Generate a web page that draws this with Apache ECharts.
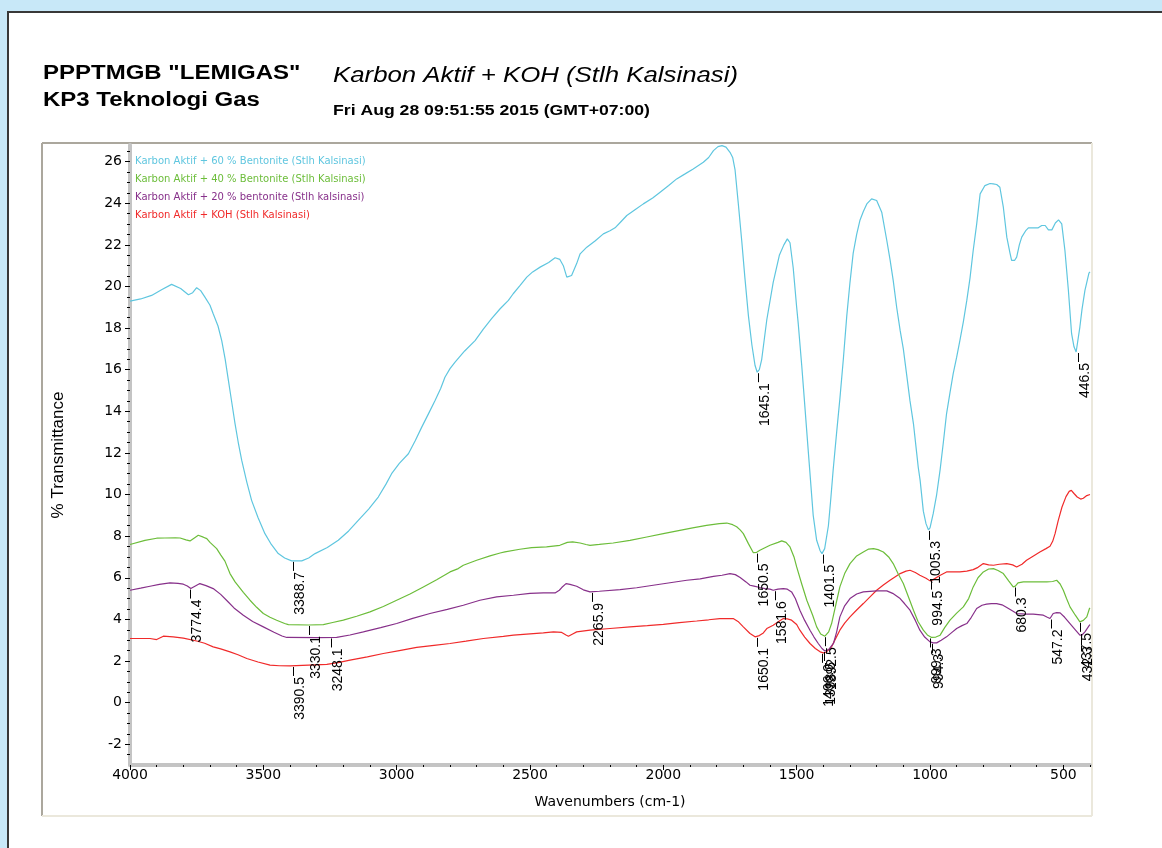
<!DOCTYPE html>
<html><head><meta charset="utf-8">
<script src="https://cdn.jsdelivr.net/npm/echarts@6/dist/echarts.min.js"></script>
<style>html,body{margin:0;padding:0;background:#c8e8f8;}#c{width:1162px;height:848px;}</style>
</head><body><div id="c"></div>
<script>
const seriesNames = [
  'Karbon Aktif + 60 % Bentonite (Stlh Kalsinasi)',
  'Karbon Aktif + 40 % Bentonite (Stlh Kalsinasi)',
  'Karbon Aktif + 20 % bentonite (Stlh kalsinasi)',
  'Karbon Aktif + KOH (Stlh Kalsinasi)'
];
const seriesColors = ['#5fc6df', '#6cbd3a', '#87308a', '#f02a2a'];

const cyanData = [[4000,19.3],[3994,19.25],[3960,19.4],[3919,19.57],[3880,19.85],[3844,20.1],[3810,19.9],[3781,19.6],[3765,19.7],[3750,19.94],[3735,19.8],[3719,19.49],[3700,19.1],[3688,18.69],[3670,18.1],[3656,17.4],[3643,16.5],[3631,15.49],[3618,14.4],[3606,13.4],[3594,12.5],[3581,11.64],[3562,10.6],[3544,9.72],[3520,8.9],[3494,8.12],[3470,7.6],[3444,7.16],[3420,6.95],[3394,6.81],[3356,6.81],[3330,6.95],[3306,7.16],[3260,7.45],[3219,7.8],[3180,8.25],[3144,8.76],[3105,9.3],[3069,9.88],[3040,10.5],[3019,11.0],[2990,11.5],[2956,11.96],[2930,12.6],[2906,13.24],[2880,13.9],[2856,14.52],[2835,15.1],[2819,15.64],[2800,16.05],[2781,16.36],[2745,16.9],[2706,17.4],[2675,17.95],[2644,18.45],[2612,18.93],[2581,19.33],[2563,19.65],[2537,20.05],[2512,20.45],[2490,20.7],[2462,20.93],[2430,21.15],[2406,21.38],[2388,21.3],[2375,21.0],[2362,20.45],[2344,20.53],[2325,21.1],[2312,21.57],[2287,21.89],[2255,22.2],[2225,22.53],[2200,22.68],[2181,22.82],[2160,23.1],[2137,23.41],[2105,23.7],[2075,23.97],[2040,24.25],[2012,24.53],[1980,24.85],[1950,25.17],[1920,25.4],[1888,25.65],[1850,25.97],[1830,26.2],[1812,26.53],[1795,26.72],[1780,26.77],[1765,26.7],[1750,26.45],[1740,26.2],[1731,25.6],[1719,24.0],[1706,22.2],[1694,20.4],[1681,18.6],[1668,17.2],[1656,16.2],[1648,15.88],[1640,16.0],[1631,16.5],[1612,18.4],[1588,20.2],[1565,21.5],[1548,22.0],[1535,22.29],[1525,22.1],[1513,20.9],[1500,19.0],[1494,18.2],[1481,16.2],[1475,15.2],[1456,12.0],[1438,9.0],[1425,7.8],[1412,7.3],[1405,7.16],[1395,7.4],[1381,8.5],[1372,9.8],[1363,11.2],[1350,13.0],[1338,14.6],[1325,16.5],[1312,18.6],[1300,20.2],[1288,21.6],[1275,22.5],[1263,23.17],[1250,23.6],[1237,23.97],[1219,24.21],[1200,24.13],[1181,23.57],[1162,22.21],[1150,21.3],[1138,20.29],[1125,19.0],[1112,17.89],[1100,17.0],[1087,15.7],[1075,14.5],[1062,13.4],[1050,12.0],[1044,11.3],[1037,10.68],[1025,9.2],[1015,8.6],[1006,8.3],[1000,8.4],[988,9.08],[975,10.0],[962,11.2],[950,12.5],[938,13.88],[925,14.9],[913,15.81],[900,16.6],[888,17.4],[875,18.3],[862,19.33],[850,20.4],[838,21.73],[825,23.0],[812,24.45],[794,24.85],[775,24.95],[763,24.93],[750,24.9],[738,24.77],[725,23.81],[712,22.37],[700,21.6],[694,21.25],[683,21.25],[675,21.41],[665,22.0],[656,22.37],[640,22.7],[631,22.82],[594,22.82],[581,22.93],[568,22.93],[556,22.72],[543,22.72],[530,23.05],[518,23.2],[506,23.01],[494,21.73],[481,19.81],[469,17.73],[460,17.1],[452,16.85],[446,16.9],[438,18.05],[430,18.9],[419,19.81],[404,20.64],[400,20.7]];

const greenData = [[4000,7.6],[3994,7.64],[3944,7.8],[3900,7.9],[3869,7.91],[3830,7.92],[3812,7.91],[3790,7.82],[3775,7.77],[3760,7.9],[3744,8.04],[3725,7.95],[3712,7.88],[3700,7.7],[3675,7.4],[3660,7.1],[3644,6.8],[3625,6.2],[3606,5.8],[3600,5.72],[3575,5.3],[3550,4.92],[3525,4.58],[3500,4.28],[3475,4.1],[3450,3.96],[3420,3.8],[3406,3.75],[3330,3.73],[3275,3.75],[3240,3.85],[3200,3.96],[3150,4.15],[3100,4.36],[3050,4.62],[3000,4.92],[2950,5.22],[2900,5.56],[2850,5.9],[2800,6.28],[2769,6.44],[2750,6.6],[2700,6.84],[2650,7.05],[2612,7.19],[2594,7.24],[2538,7.37],[2494,7.45],[2438,7.48],[2388,7.56],[2360,7.7],[2340,7.72],[2312,7.67],[2290,7.6],[2275,7.56],[2240,7.6],[2188,7.67],[2125,7.8],[2062,7.96],[2000,8.12],[1938,8.28],[1890,8.4],[1838,8.52],[1790,8.6],[1762,8.63],[1740,8.55],[1725,8.45],[1712,8.3],[1700,8.12],[1681,7.64],[1663,7.21],[1650,7.22],[1638,7.32],[1600,7.56],[1570,7.7],[1556,7.77],[1540,7.7],[1525,7.48],[1510,7.0],[1500,6.52],[1481,5.7],[1462,4.92],[1440,4.2],[1425,3.64],[1410,3.3],[1394,3.19],[1380,3.4],[1369,3.8],[1355,4.6],[1338,5.56],[1320,6.2],[1300,6.68],[1275,7.05],[1250,7.24],[1230,7.38],[1212,7.4],[1195,7.35],[1175,7.24],[1155,7.0],[1138,6.68],[1120,6.2],[1100,5.72],[1080,5.05],[1062,4.44],[1045,3.9],[1025,3.48],[1010,3.25],[994,3.13],[978,3.15],[962,3.24],[945,3.6],[925,3.96],[900,4.3],[875,4.6],[855,5.0],[838,5.56],[820,6.0],[800,6.28],[780,6.42],[762,6.44],[745,6.35],[725,6.2],[705,5.85],[688,5.56],[680,5.6],[670,5.75],[650,5.8],[613,5.8],[562,5.8],[540,5.82],[525,5.88],[512,5.7],[500,5.4],[488,5.0],[475,4.6],[455,4.2],[438,3.88],[425,3.95],[412,4.12],[402,4.52],[400,4.55]];

const purpleData = [[4000,5.4],[3960,5.5],[3925,5.59],[3890,5.68],[3850,5.75],[3820,5.73],[3800,5.69],[3785,5.6],[3772,5.48],[3755,5.6],[3738,5.72],[3715,5.62],[3688,5.48],[3660,5.2],[3638,4.92],[3610,4.55],[3575,4.2],[3540,3.9],[3500,3.64],[3460,3.38],[3430,3.2],[3412,3.13],[3300,3.12],[3225,3.13],[3175,3.25],[3125,3.4],[3060,3.6],[3000,3.8],[2940,4.05],[2875,4.28],[2810,4.48],[2750,4.68],[2688,4.92],[2625,5.08],[2562,5.16],[2500,5.25],[2450,5.27],[2406,5.27],[2390,5.4],[2381,5.53],[2365,5.72],[2350,5.68],[2325,5.59],[2300,5.42],[2275,5.32],[2240,5.35],[2162,5.43],[2100,5.52],[2038,5.64],[1975,5.76],[1912,5.88],[1862,5.95],[1812,6.07],[1780,6.12],[1750,6.2],[1730,6.15],[1712,6.01],[1690,5.8],[1675,5.64],[1660,5.6],[1638,5.53],[1619,5.48],[1600,5.45],[1588,5.4],[1570,5.45],[1550,5.48],[1535,5.45],[1519,5.32],[1505,5.0],[1488,4.44],[1470,3.95],[1450,3.48],[1435,3.15],[1419,2.84],[1405,2.6],[1394,2.48],[1380,2.55],[1362,2.84],[1350,3.4],[1338,4.12],[1320,4.65],[1300,5.0],[1275,5.22],[1250,5.32],[1200,5.37],[1162,5.37],[1140,5.25],[1112,5.0],[1095,4.75],[1075,4.44],[1055,3.95],[1038,3.48],[1020,3.15],[1000,2.92],[988,2.87],[975,2.87],[958,3.0],[938,3.16],[920,3.35],[900,3.56],[880,3.7],[862,3.8],[845,4.1],[825,4.52],[805,4.68],[788,4.73],[770,4.76],[750,4.76],[730,4.7],[712,4.57],[690,4.4],[675,4.28],[640,4.25],[613,4.25],[575,4.2],[560,4.1],[550,4.04],[538,4.28],[525,4.32],[512,4.31],[495,4.1],[475,3.8],[455,3.5],[438,3.24],[430,3.25],[419,3.4],[402,3.72],[400,3.75]];

const redData = [[4000,3.08],[3960,3.08],[3925,3.08],[3900,3.03],[3875,3.19],[3838,3.16],[3800,3.1],[3750,2.96],[3720,2.85],[3688,2.68],[3660,2.58],[3625,2.44],[3595,2.3],[3562,2.12],[3520,1.95],[3475,1.8],[3440,1.77],[3400,1.76],[3330,1.8],[3262,1.84],[3220,1.92],[3175,2.04],[3110,2.2],[3050,2.36],[2990,2.5],[2925,2.65],[2860,2.75],[2800,2.84],[2740,2.95],[2675,3.08],[2600,3.18],[2562,3.24],[2500,3.3],[2450,3.35],[2412,3.4],[2381,3.37],[2365,3.25],[2356,3.19],[2340,3.3],[2325,3.4],[2275,3.48],[2200,3.56],[2125,3.64],[2060,3.7],[2000,3.76],[1940,3.84],[1875,3.92],[1830,3.98],[1788,4.04],[1738,4.04],[1720,3.9],[1700,3.64],[1675,3.32],[1656,3.16],[1640,3.22],[1625,3.35],[1612,3.56],[1588,3.72],[1562,3.95],[1550,4.04],[1535,4.02],[1519,3.96],[1500,3.75],[1488,3.48],[1470,3.15],[1450,2.84],[1430,2.6],[1412,2.44],[1400,2.39],[1390,2.42],[1369,2.68],[1355,3.05],[1338,3.48],[1320,3.82],[1300,4.12],[1275,4.45],[1250,4.76],[1225,5.08],[1200,5.4],[1175,5.65],[1150,5.88],[1130,6.05],[1112,6.2],[1090,6.32],[1075,6.36],[1055,6.25],[1038,6.12],[1015,5.98],[1000,5.85],[994,5.91],[988,5.91],[965,6.1],[938,6.28],[912,6.28],[888,6.28],[862,6.32],[838,6.39],[820,6.5],[800,6.68],[780,6.62],[762,6.6],[740,6.65],[712,6.68],[690,6.62],[675,6.52],[655,6.65],[638,6.84],[612,7.05],[588,7.24],[565,7.4],[550,7.51],[540,7.75],[531,8.12],[519,8.76],[505,9.4],[490,9.9],[478,10.15],[470,10.2],[460,10.05],[448,9.88],[435,9.78],[425,9.82],[412,9.95],[400,10.0]];

const cyanPeaks = [[3388.7,6.81],[1645.1,15.88],[1401.5,7.16],[1005.3,8.3],[446.5,16.85]];
const greenPeaks = [[3330.1,3.73],[1650.5,7.21],[1392.5,3.19],[999.3,3.13],[680.3,5.58],[437.5,3.88]];
const purplePeaks = [[3774.4,5.48],[3248.1,3.13],[2265.9,5.32],[1581.6,5.4],[1398.5,2.48],[994.3,2.87],[547.2,4.04],[432.3,3.24]];
const redPeaks = [[3390.5,1.76],[1650.1,3.16],[1406.0,2.39],[994.5,5.91]];

const xTicks = [500,1000,1500,2000,2500,3000,3500,4000];
const xMinorTicks = [];
for (let v = 400; v <= 4000; v += 100) xMinorTicks.push(v);
const yTicks = [-2,0,2,4,6,8,10,12,14,16,18,20,22,24,26];
const yMinorTicks = [];
for (let v = -2.5; v <= 26.5; v += 0.5) yMinorTicks.push(v);

const allSeriesData = [cyanData, greenData, purpleData, redData];
const allPeaks = cyanPeaks.concat(greenPeaks, purplePeaks, redPeaks);

const chart = echarts.init(document.getElementById('c'), null, {renderer: 'canvas'});
const axisCommon = {type: 'value', splitLine: {show: false}};
const plainNum = v => String(v);
const option = {
  animation: false,
  backgroundColor: '#c8e8f8',
  grid: {left: 130, right: 72, top: 145, bottom: 83},
  legend: {
    orient: 'vertical', left: 125, top: 150, icon: 'none', itemWidth: 0, itemHeight: 10, itemGap: 6.3,
    selectedMode: false,
    textStyle: {fontFamily: 'DejaVu Sans', fontSize: 10, lineHeight: 12},
    data: seriesNames.map((n, i) => ({name: n, textStyle: {color: seriesColors[i]}}))
  },
  xAxis: [
    Object.assign({}, axisCommon, {
      min: 400, max: 4000, inverse: true, position: 'bottom',
      name: 'Wavenumbers (cm-1)', nameLocation: 'middle', nameGap: 30,
      nameTextStyle: {fontFamily: 'DejaVu Sans', fontSize: 14, color: '#000'},
      axisLine: {show: true, onZero: false, lineStyle: {color: '#c4c4c4', width: 4}},
      axisTick: {show: true, customValues: xTicks, length: 5, lineStyle: {color: '#000', width: 1}},
      axisLabel: {show: true, customValues: xTicks, margin: 3, formatter: plainNum, fontFamily: 'DejaVu Sans', fontSize: 14, color: '#000'}
    }),
    Object.assign({}, axisCommon, {
      min: 400, max: 4000, inverse: true, position: 'bottom', offset: 0,
      axisLine: {show: false, onZero: false},
      axisTick: {show: true, customValues: xMinorTicks, length: 2, lineStyle: {color: '#000', width: 1}},
      axisLabel: {show: false}
    })
  ],
  yAxis: [
    Object.assign({}, axisCommon, {
      min: -3, max: 26.8, position: 'left',
      name: '% Transmittance', nameLocation: 'middle', nameGap: 63,
      nameTextStyle: {fontFamily: 'Liberation Sans', fontSize: 17, color: '#000'},
      axisLine: {show: true, onZero: false, lineStyle: {color: '#c4c4c4', width: 4}},
      axisTick: {show: true, customValues: yTicks, length: 5, lineStyle: {color: '#000', width: 1}},
      axisLabel: {show: true, customValues: yTicks, margin: 8, formatter: plainNum, fontFamily: 'DejaVu Sans', fontSize: 14, color: '#000'}
    }),
    Object.assign({}, axisCommon, {
      min: -3, max: 26.8, position: 'left', offset: 0,
      axisLine: {show: false, onZero: false},
      axisTick: {show: true, customValues: yMinorTicks, length: 3, lineStyle: {color: '#000', width: 1}},
      axisLabel: {show: false}
    })
  ],
  graphic: [
    {type: 'rect', z: -100, silent: true, shape: {x: 8, y: 12, width: 1300, height: 1000}, style: {fill: '#ffffff', stroke: '#383838', lineWidth: 2}},
    {type: 'line', z: -90, silent: true, shape: {x1: 42, y1: 143, x2: 1092, y2: 143}, style: {stroke: '#aba79d', lineWidth: 2}},
    {type: 'line', z: -90, silent: true, shape: {x1: 42, y1: 143, x2: 42, y2: 816}, style: {stroke: '#aba79d', lineWidth: 2}},
    {type: 'line', z: -90, silent: true, shape: {x1: 1092, y1: 143, x2: 1092, y2: 816}, style: {stroke: '#ebe8dc', lineWidth: 2}},
    {type: 'line', z: -90, silent: true, shape: {x1: 42, y1: 816, x2: 1092, y2: 816}, style: {stroke: '#ebe8dc', lineWidth: 2}},
    {type: 'text', silent: true, x: 43, y: 73, scaleX: 1.2, style: {text: 'PPPTMGB "LEMIGAS"', fill: '#000', font: 'bold 20px "Liberation Sans"', textAlign: 'left', textVerticalAlign: 'middle', align: 'left', verticalAlign: 'middle'}},
    {type: 'text', silent: true, x: 43, y: 100, scaleX: 1.2, style: {text: 'KP3 Teknologi Gas', fill: '#000', font: 'bold 20px "Liberation Sans"', textAlign: 'left', textVerticalAlign: 'middle', align: 'left', verticalAlign: 'middle'}},
    {type: 'text', silent: true, x: 333, y: 76, scaleX: 1.2, style: {text: 'Karbon Aktif + KOH (Stlh Kalsinasi)', fill: '#000', font: 'italic 21.5px "Liberation Sans"', textAlign: 'left', textVerticalAlign: 'middle', align: 'left', verticalAlign: 'middle'}},
    {type: 'text', silent: true, x: 333, y: 111, scaleX: 1.2, style: {text: 'Fri Aug 28 09:51:55 2015 (GMT+07:00)', fill: '#000', font: 'bold 14.7px "Liberation Sans"', textAlign: 'left', textVerticalAlign: 'middle', align: 'left', verticalAlign: 'middle'}}
  ],
  series: allSeriesData.map((d, i) => ({
    name: seriesNames[i], type: 'line', data: d, symbol: 'none', showSymbol: false,
    lineStyle: {color: seriesColors[i], width: 1.2}, itemStyle: {color: seriesColors[i]},
    z: 2 + (3 - i), silent: true
  })).concat([{
    name: 'peaks', type: 'custom', data: allPeaks, clip: false, silent: true, z: 10,
    renderItem: function (params, api) {
      const w = api.value(0), t = api.value(1);
      const p = api.coord([w, t]);
      const x = Math.round(p[0]) + 0.5;
      return {type: 'group', children: [
        {type: 'line', shape: {x1: x, y1: p[1] + 1, x2: x, y2: p[1] + 10}, style: {stroke: '#000', lineWidth: 1}},
        {type: 'text', x: x + 7, y: p[1] + 11, rotation: Math.PI / 2,
         style: {text: w.toFixed(1), fill: '#000', font: '14px "Liberation Sans"', align: 'right', verticalAlign: 'middle', textAlign: 'right', textVerticalAlign: 'middle'}}
      ]};
    }
  }])
};
chart.setOption(option);
</script>
</body></html>
